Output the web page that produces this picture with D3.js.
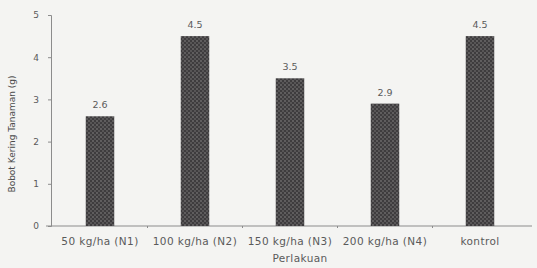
<!DOCTYPE html>
<html><head><meta charset="utf-8">
<script src="https://cdn.jsdelivr.net/npm/d3@7"></script>
<style>body{margin:0;background:#f4f4f2;}svg{display:block;}</style>
</head><body>
<svg id="c" width="537" height="268"></svg>
<script>
const categories = ["50 kg/ha (N1)", "100 kg/ha (N2)", "150 kg/ha (N3)", "200 kg/ha (N4)", "kontrol"];
const values = [2.6, 4.5, 3.5, 2.9, 4.5];
const valueLabels = ["2.6", "4.5", "3.5", "2.9", "4.5"];
const yTicks = [0, 1, 2, 3, 4, 5];
const yTitle = "Bobot Kering Tanaman (g)";
const xTitle = "Perlakuan";

const FONT = "DejaVu Sans, Verdana, sans-serif";
const svg = d3.select("#c");
svg.append("rect").attr("width", 537).attr("height", 268).attr("fill", "#f4f4f2");
const defs = svg.append("defs");
const pat = defs.append("pattern").attr("id", "dots").attr("patternUnits", "userSpaceOnUse")
  .attr("width", 4).attr("height", 4);
pat.append("rect").attr("width", 4).attr("height", 4).attr("fill", "#3e3c3e");
pat.append("circle").attr("cx", 1).attr("cy", 1).attr("r", 0.65).attr("fill", "#9c9a9a");
pat.append("circle").attr("cx", 3).attr("cy", 3).attr("r", 0.65).attr("fill", "#858383");

const xb = d3.scaleBand().domain(categories).range([52.5, 527.5]);
const x = d3.scaleBand().domain(categories).range([52.5, 527.5]).paddingInner(0.7).paddingOuter(0.35);
const y = d3.scaleLinear().domain([0, 5]).range([226, 15]);
const col = "#5a5a5a";
const axCol = "#8c8c8c";

// y axis
const ya = svg.append("g").attr("transform", "translate(51,0)")
  .call(d3.axisLeft(y).tickValues(yTicks).tickSize(3).tickPadding(9).tickFormat(d3.format("d")));
ya.select(".domain").attr("stroke", axCol);
ya.selectAll(".tick line").attr("stroke", axCol);
ya.selectAll("text").attr("fill", col).style("font-family", FONT).style("font-size", "9px");

// x axis
const xa = svg.append("g").attr("transform", "translate(0,226)");
xa.append("line").attr("x1", 46).attr("x2", 532).attr("y1", 0).attr("y2", 0).attr("stroke", axCol);
xa.selectAll("line.t").data(categories.slice(1)).enter().append("line").attr("class", "t")
  .attr("x1", d => xb(d)).attr("x2", d => xb(d)).attr("y1", 0).attr("y2", 2).attr("stroke", axCol);
xa.selectAll("text").data(categories).enter().append("text")
  .attr("x", d => xb(d) + xb.bandwidth() / 2).attr("y", 19)
  .attr("text-anchor", "middle").attr("fill", col)
  .style("font-family", FONT).style("font-size", "10.5px").style("letter-spacing", "0.4px").text(d => d);

// bars
svg.selectAll("rect.bar").data(values).enter().append("rect").attr("class", "bar")
  .attr("x", (d, i) => x(categories[i])).attr("width", x.bandwidth())
  .attr("y", d => y(d)).attr("height", d => y(0) - y(d))
  .attr("fill", "url(#dots)");

// value labels
svg.selectAll("text.v").data(values).enter().append("text").attr("class", "v")
  .attr("x", (d, i) => x(categories[i]) + x.bandwidth() / 2).attr("y", d => y(d) - 8)
  .attr("text-anchor", "middle").attr("fill", col)
  .style("font-family", FONT).style("font-size", "9.5px")
  .text((d, i) => valueLabels[i]);

// titles
svg.append("text").attr("x", 300).attr("y", 262).attr("text-anchor", "middle").attr("fill", col)
  .style("font-family", FONT).style("font-size", "10.5px").style("letter-spacing", "0.4px").text(xTitle);
svg.append("text").attr("transform", "translate(15,134) rotate(-90)").attr("text-anchor", "middle").attr("fill", "#4a4a4a")
  .style("font-family", FONT).style("font-size", "9px").text(yTitle);
</script>
</body></html>
